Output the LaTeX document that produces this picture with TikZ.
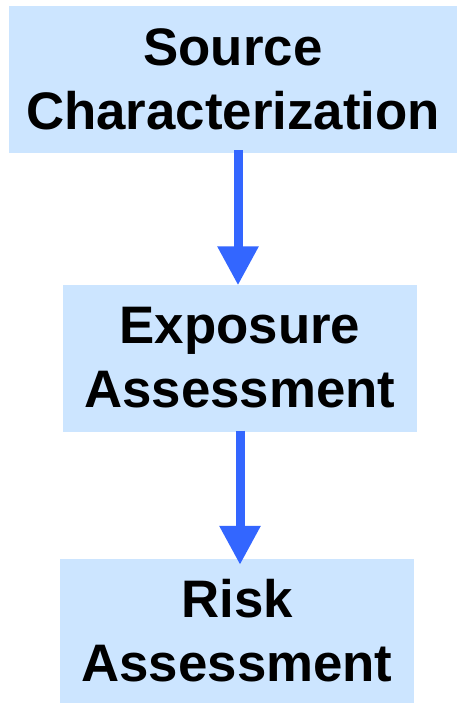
\documentclass[tikz,border=0pt]{standalone}
\usepackage{fontspec}
\setmainfont{Liberation Sans}
\usepackage{tikz}
\usetikzlibrary{positioning,arrows.meta}
\definecolor{stagefill}{RGB}{204,229,255}
\definecolor{flowblue}{RGB}{51,102,255}

\begin{document}
\begin{tikzpicture}[x=1pt, y=-1pt,
        stage/.style={rectangle, fill=stagefill, inner sep=0pt,
          minimum height=147pt, align=center,
          font=\fontsize{52.8}{64}\selectfont\bfseries},
        flow/.style={draw=flowblue, line width=9pt,
          -{Triangle[length=39pt, width=39pt]}},
      ]
      \useasboundingbox (0,0) rectangle (458,703);

      \node[stage, minimum width=448pt] (source) at (233, 79.5)
        {Source\\Characterization};
      \node[stage, minimum width=354pt] (exposure) at (240, 358)
        {Exposure\\Assessment};
      \node[stage, minimum width=354pt, minimum height=144pt] (risk) at (237, 631)
        {Risk\\Assessment};

      \draw[flow] ([yshift=3pt]source.south -| 238,0) -- ([yshift=-1pt]exposure.north -| 238,0);
      \draw[flow] ([yshift=1pt]exposure.south) -- ([yshift=-6pt]exposure.south |- risk.north);
    \end{tikzpicture}
\end{document}
